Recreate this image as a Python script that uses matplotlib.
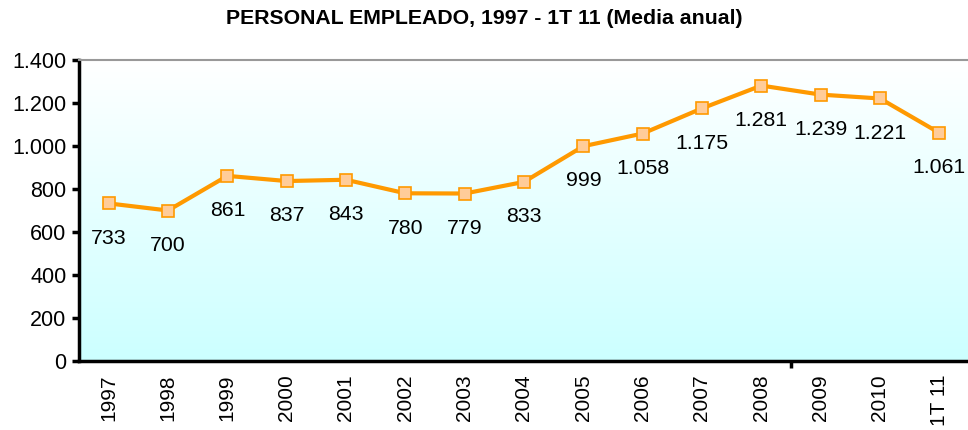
import matplotlib
matplotlib.use('Agg')
import matplotlib.pyplot as plt
import numpy as np
from matplotlib.colors import LinearSegmentedColormap
from matplotlib.ticker import FuncFormatter, FixedLocator

plt.rcParams['font.family'] = ['Liberation Sans', 'DejaVu Sans']

years = ['1997', '1998', '1999', '2000', '2001', '2002', '2003', '2004',
         '2005', '2006', '2007', '2008', '2009', '2010', '1T 11']
empleados = [733, 700, 861, 837, 843, 780, 779, 833,
             999, 1058, 1175, 1281, 1239, 1221, 1061]

def miles(v, pos=None):
    return '{:,.0f}'.format(v).replace(',', '.')

fig = plt.figure(figsize=(9.68, 4.30), dpi=100)
ax = fig.add_axes([79 / 968, 1 - 361 / 430, 890 / 968, 301 / 430])

x = np.arange(len(years))
ax.set_xlim(-0.5, len(years) - 0.5)
ax.set_ylim(0, 1400)

# fondo degradado blanco -> celeste
cmap = LinearSegmentedColormap.from_list('fondo', ['#CCFFFF', '#FFFFFF'])
grad = np.linspace(0, 1, 256).reshape(-1, 1)
ax.imshow(grad, cmap=cmap, aspect='auto', origin='lower',
          extent=[-0.5, len(years) - 0.5, 0, 1400], zorder=0)

ax.plot(x, empleados, color='#FF9900', linewidth=3, marker='s', markersize=8,
        markerfacecolor='#FFCC99', markeredgecolor='#FF9900', markeredgewidth=1.2,
        zorder=3)

for xi, v in zip(x, empleados):
    ax.annotate(miles(v), (xi, v), xytext=(0, -25), textcoords='offset points',
                ha='center', va='center', fontsize=15.3, color='black')

ax.yaxis.set_major_locator(FixedLocator(range(0, 1401, 200)))
ax.yaxis.set_major_formatter(FuncFormatter(miles))
ax.tick_params(axis='y', direction='out', length=5, width=2.5, labelsize=15.5, pad=4)

# solo una marca en el eje x (entre 2008 y 2009), etiquetas en cada categoria
ax.set_xticks([11.5])
ax.set_xticklabels([''])
ax.tick_params(axis='x', direction='out', length=5, width=2.5)
for xi, lab in zip(x, years):
    ax.text(xi, -0.045, lab, transform=ax.get_xaxis_transform(), rotation=90,
            ha='center', va='top', fontsize=15)

for side in ['left', 'bottom']:
    ax.spines[side].set_linewidth(2.5)
    ax.spines[side].set_color('black')
ax.spines['top'].set_color('#999999')
ax.spines['top'].set_linewidth(1.5)
ax.spines['right'].set_visible(False)

fig.text(0.5, 1 - 18 / 430, 'PERSONAL EMPLEADO, 1997 - 1T 11 (Media anual)',
         ha='center', va='center', fontsize=15.3, fontweight='bold')

fig.savefig('out.png', dpi=100)
